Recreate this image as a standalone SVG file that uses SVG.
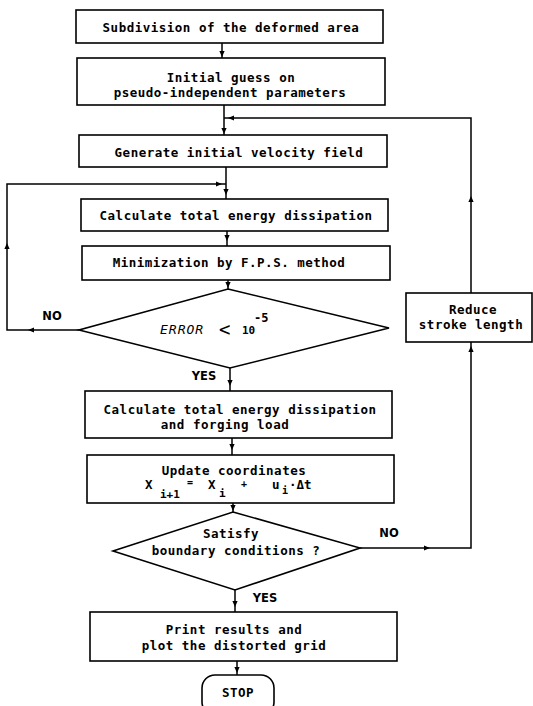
<svg xmlns="http://www.w3.org/2000/svg" xmlns:xlink="http://www.w3.org/1999/xlink" width="533" height="706" viewBox="0 0 533 706">
<style>
.bx{fill:#fff;stroke:#000;stroke-width:1.6}
.cn{fill:none;stroke:#000;stroke-width:1.5}
.t{font-family:"DejaVu Sans Mono","Liberation Mono",monospace;font-size:12.5px;font-weight:bold;letter-spacing:0.5px;fill:#000;text-anchor:middle}
.ts{font-family:"DejaVu Sans Mono","Liberation Mono",monospace;font-weight:bold;fill:#000}
.lb{font-family:"DejaVu Sans","Liberation Sans",sans-serif;font-size:11.5px;font-weight:bold;fill:#000;text-anchor:middle}
</style>
<defs>
<path id="ah" d="M0,0 L-2.6,-6 L2.6,-6 Z" fill="#000"/>
</defs>
<rect width="533" height="706" fill="#fff"/>
<g id="connectors">
<path class="cn" d="M222,43 V58"/>
<path class="cn" d="M224,105 V135"/>
<path class="cn" d="M471,293 V118 H224"/>
<path class="cn" d="M226,167 V199"/>
<path class="cn" d="M79,330 H7 V184 H226"/>
<path class="cn" d="M227,231 V246"/>
<path class="cn" d="M228,280 V289"/>
<path class="cn" d="M230,368 V391"/>
<path class="cn" d="M232,438 V455"/>
<path class="cn" d="M233,503 V512"/>
<path class="cn" d="M235,590 V612"/>
<path class="cn" d="M237,661 V675"/>
<path class="cn" d="M360,548 H471 V342"/>
<use xlink:href="#ah" transform="translate(222,57)"/>
<use xlink:href="#ah" transform="translate(224,134)"/>
<use xlink:href="#ah" transform="translate(228,118) rotate(90)"/>
<use xlink:href="#ah" transform="translate(471,196) rotate(180)"/>
<use xlink:href="#ah" transform="translate(222,184) rotate(-90)"/>
<use xlink:href="#ah" transform="translate(226,195)"/>
<use xlink:href="#ah" transform="translate(28,330) rotate(90)"/>
<use xlink:href="#ah" transform="translate(7,243) rotate(180)"/>
<use xlink:href="#ah" transform="translate(227,241)"/>
<use xlink:href="#ah" transform="translate(228,288)"/>
<use xlink:href="#ah" transform="translate(230,386)"/>
<use xlink:href="#ah" transform="translate(232,450)"/>
<use xlink:href="#ah" transform="translate(233,511)"/>
<use xlink:href="#ah" transform="translate(235,607)"/>
<use xlink:href="#ah" transform="translate(237,673)"/>
<use xlink:href="#ah" transform="translate(430,548) rotate(-90)"/>
<use xlink:href="#ah" transform="translate(471,346) rotate(180)"/>
<text class="lb" x="52" y="320">NO</text>
<text class="lb" x="204" y="380">YES</text>
<text class="lb" x="389" y="537">NO</text>
<text class="lb" x="265" y="602">YES</text>
</g>
<g id="subdivision">
<rect class="bx" x="76" y="10" width="307" height="33"/>
<text class="t" x="231" y="32">Subdivision of the deformed area</text>
</g>
<g id="initial-guess">
<rect class="bx" x="77" y="58" width="308" height="47"/>
<text class="t" x="231" y="82">Initial guess on</text>
<text class="t" x="230" y="97">pseudo-independent parameters</text>
</g>
<g id="generate">
<rect class="bx" x="79" y="135" width="308" height="32"/>
<text class="t" x="239" y="157">Generate initial velocity field</text>
</g>
<g id="calc-energy">
<rect class="bx" x="81" y="199" width="307" height="32"/>
<text class="t" x="236" y="220">Calculate total energy dissipation</text>
</g>
<g id="minimization">
<rect class="bx" x="82" y="246" width="308" height="34"/>
<text class="t" x="229" y="267">Minimization by F.P.S. method</text>
</g>
<g id="error-check">
<polygon class="bx" points="228,289 389,328 230,368 79,330"/>
<text class="ts" x="160" y="334" style="font-size:13px;font-style:italic;font-weight:normal;letter-spacing:1px">ERROR</text>
<text class="ts" x="219" y="336" style="font-size:19px;font-weight:normal">&lt;</text>
<text class="ts" x="242" y="334" style="font-size:11px">10</text>
<text class="ts" x="254" y="322" style="font-size:12px">-5</text>
</g>
<g id="reduce">
<rect class="bx" x="406" y="293" width="126" height="49"/>
<text class="t" x="473" y="314">Reduce</text>
<text class="t" x="471" y="329">stroke length</text>
</g>
<g id="calc-load">
<rect class="bx" x="85" y="391" width="307" height="47"/>
<text class="t" x="240" y="414">Calculate total energy dissipation</text>
<text class="t" x="225" y="429">and forging load</text>
</g>
<g id="update">
<rect class="bx" x="87" y="455" width="307" height="48"/>
<text class="t" x="234" y="475">Update coordinates</text>
<text class="ts" x="145" y="489" style="font-size:12.5px">X</text>
<text class="ts" x="160" y="498" style="font-size:11px">i+1</text>
<text class="ts" x="187" y="486" style="font-size:10px">=</text>
<text class="ts" x="208" y="489" style="font-size:12.5px">X</text>
<text class="ts" x="219" y="497" style="font-size:11px">i</text>
<text class="ts" x="241" y="487" style="font-size:10px">+</text>
<text class="ts" x="272" y="489" style="font-size:12.5px">u</text>
<text class="ts" x="282" y="494" style="font-size:10px">i</text>
<text class="ts" x="289" y="489" style="font-size:12.5px">·Δt</text>
</g>
<g id="boundary-check">
<polygon class="bx" points="233,512 360,548 235,590 113,551"/>
<text class="t" x="231" y="538">Satisfy</text>
<text class="t" x="236" y="555">boundary conditions ?</text>
</g>
<g id="print">
<rect class="bx" x="90" y="612" width="307" height="49"/>
<text class="t" x="234" y="634">Print results and</text>
<text class="t" x="234" y="650">plot the distorted grid</text>
</g>
<g id="stop">
<rect class="bx" x="202" y="675" width="72" height="40" rx="13" ry="13"/>
<text class="t" x="238" y="697">STOP</text>
</g>
</svg>
